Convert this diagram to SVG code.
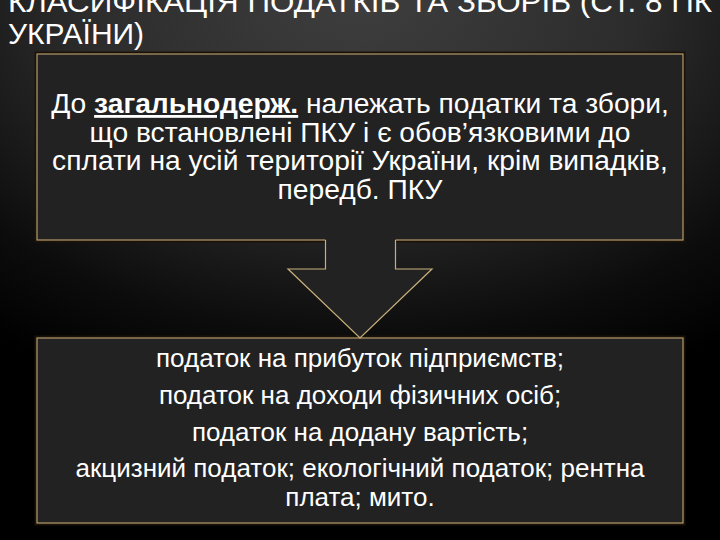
<svg xmlns="http://www.w3.org/2000/svg" width="720" height="540" viewBox="0 0 720 540">
<defs>
<radialGradient id="bg" cx="360" cy="0" r="560" gradientUnits="userSpaceOnUse" gradientTransform="translate(360 0) scale(1.1 0.75) translate(-360 0)">
<stop offset="0" stop-color="#3e3e3e"/>
<stop offset="0.45" stop-color="#2c2c2c"/>
<stop offset="0.8" stop-color="#0c0c0c"/>
<stop offset="1" stop-color="#000"/>
</radialGradient>
<style>
.box{fill:#222222;stroke:#b49c6c;stroke-width:1.2}
.shadow{fill:none;stroke:#1a1208;stroke-width:3}
.t{font-family:"Liberation Sans",Arial,sans-serif;fill:#ffffff}
.title{font-size:30px}
.top{font-size:28.2px;text-anchor:middle}
.bot{font-size:26px;text-anchor:middle}
.arrowfill{fill:#222222}
.arrowline{fill:none;stroke:#c8b07a;stroke-width:1.2}
</style>
</defs>
<rect width="720" height="540" fill="url(#bg)"/>
<g id="title" class="t title">
<text x="8" y="12" textLength="704" lengthAdjust="spacingAndGlyphs">КЛАСИФІКАЦІЯ ПОДАТКІВ ТА ЗБОРІВ (СТ. 8 ПК</text>
<text x="8" y="44">УКРАЇНИ)</text>
</g>
<g id="node-top">
<rect class="shadow" x="36" y="53" width="648" height="188"/>
<rect class="box" x="37" y="54" width="646" height="186"/>
<text class="t top" x="360" y="113">До <tspan font-weight="bold" text-decoration="underline">загальнодерж.</tspan> належать податки та збори,</text>
<text class="t top" x="360" y="142">що встановлені ПКУ і є обов’язковими до</text>
<text class="t top" x="360" y="170">сплати на усій території України, крім випадків,</text>
<text class="t top" x="360" y="199">передб. ПКУ</text>
</g>
<g id="node-bottom">
<rect class="shadow" x="36" y="337" width="648" height="187"/>
<rect class="box" x="37" y="338" width="646" height="185"/>
<text class="t bot" x="360" y="367">податок на прибуток підприємств;</text>
<text class="t bot" x="360" y="404">податок на доходи фізичних осіб;</text>
<text class="t bot" x="360" y="441">податок на додану вартість;</text>
<text class="t bot" x="360" y="477">акцизний податок; екологічний податок; рентна</text>
<text class="t bot" x="360" y="506">плата; мито.</text>
</g>
<g id="connectors">
<polygon class="arrowfill" points="325.5,239 325.5,269 288,269 360,338 432,269 395.5,269 395.5,239"/>
<polyline class="arrowline" points="325.5,240 325.5,269 288,269 360,338 432,269 395.5,269 395.5,240"/>
</g>
</svg>
